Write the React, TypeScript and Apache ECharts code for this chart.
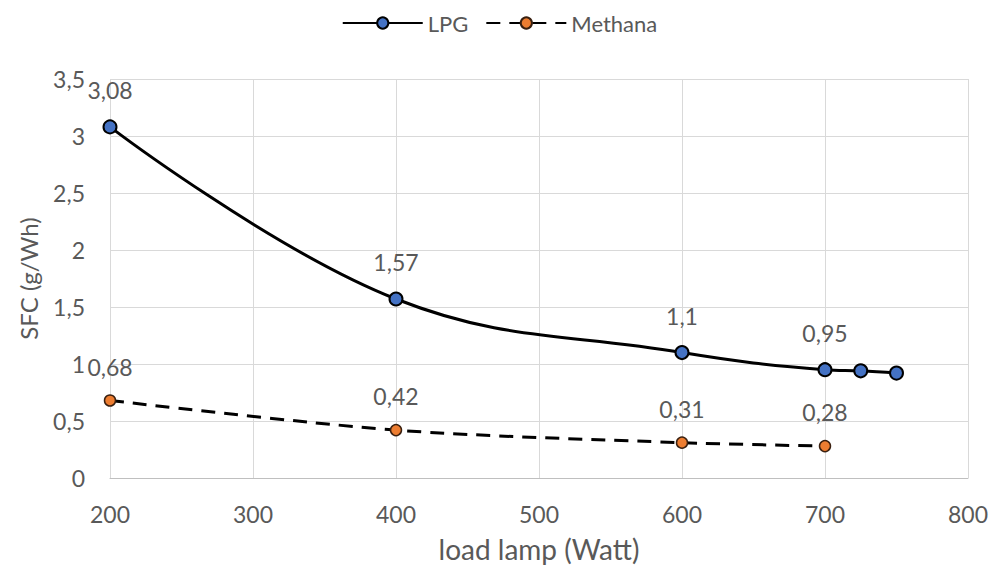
import React, { useEffect, useRef } from "react";
import * as echarts from "echarts";

const lpgX = [200, 400, 600, 700, 725, 750];
const lpgY = [3.08, 1.57, 1.1, 0.95, 0.94, 0.92];
const lpgLabeled = [true, true, true, true, false, false];
const metX = [200, 400, 600, 700];
const metY = [0.68, 0.42, 0.31, 0.28];

const fmt = (v: number) => String(v).replace(".", ",");
const FONT = "Lato, 'Open Sans', sans-serif";
const GREY = "#595959";

export default function App() {
  const ref = useRef<HTMLDivElement>(null);
  useEffect(() => {
    const chart = echarts.init(ref.current!, null, { renderer: "svg" });
    chart.setOption({
      animation: false,
      textStyle: { fontFamily: FONT },
      legend: {
        top: 0,
        left: "center",
        padding: [3, 5, 0, 5],
        itemWidth: 80,
        itemHeight: 14,
        itemGap: 17,
        textStyle: { color: GREY, fontSize: 22, lineHeight: 24, fontFamily: FONT },
        data: ["LPG", "Methana"],
      },
      grid: { left: 99, right: 23, top: 71, bottom: 86 },
      xAxis: {
        type: "value",
        min: 200,
        max: 800,
        interval: 100,
        name: "load lamp (Watt)",
        nameLocation: "middle",
        nameGap: 57,
        nameTextStyle: { color: GREY, fontSize: 28, fontFamily: FONT },
        axisLine: { show: true, lineStyle: { color: "#bfbfbf" } },
        axisTick: { show: false },
        axisLabel: { color: GREY, fontSize: 23, margin: 24, fontFamily: FONT },
        splitLine: { show: true, lineStyle: { color: "#d9d9d9" } },
      },
      yAxis: {
        type: "value",
        min: 0,
        max: 3.5,
        interval: 0.5,
        name: "SFC (g/Wh)",
        nameLocation: "middle",
        nameGap: 70,
        nameTextStyle: { color: GREY, fontSize: 24, fontFamily: FONT },
        axisLine: { show: false },
        axisTick: { show: false },
        axisLabel: {
          color: GREY,
          fontSize: 23,
          margin: 25,
          fontFamily: FONT,
          formatter: (v: number) => fmt(v),
        },
        splitLine: { show: true, lineStyle: { color: "#d9d9d9" } },
      },
      series: [
        {
          name: "LPG",
          type: "line",
          smooth: 0.4,
          symbol: "circle",
          symbolSize: 13,
          lineStyle: { color: "#000", width: 3 },
          itemStyle: { color: "#4472C4", borderColor: "#000", borderWidth: 2 },
          data: lpgX.map((x, i) => ({
            value: [x, lpgY[i]],
            label: {
              show: lpgLabeled[i],
              position: "top",
              distance: 18,
              color: GREY,
              fontSize: 23,
              fontFamily: FONT,
              formatter: () => fmt(lpgY[i]),
            },
          })),
        },
        {
          name: "Methana",
          type: "line",
          smooth: 0.3,
          symbol: "circle",
          symbolSize: 11,
          lineStyle: { color: "#000", width: 3, type: [14, 9] },
          itemStyle: { color: "#ED7D31", borderColor: "#3a2010", borderWidth: 1.5 },
          data: metX.map((x, i) => ({
            value: [x, metY[i]],
            label: {
              show: true,
              position: "top",
              distance: 16,
              color: GREY,
              fontSize: 23,
              fontFamily: FONT,
              formatter: () => fmt(metY[i]),
            },
          })),
        },
      ],
    });
    return () => chart.dispose();
  }, []);
  return <div ref={ref} style={{ width: 983, height: 560 }} />;
}
